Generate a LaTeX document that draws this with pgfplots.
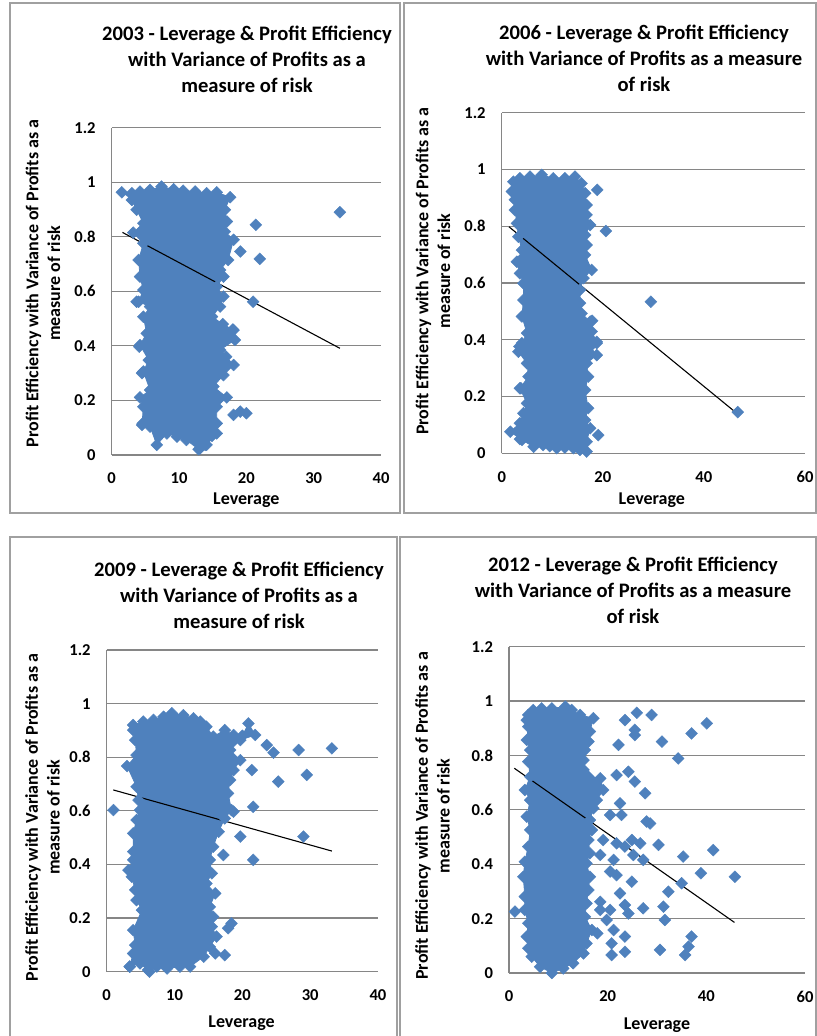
\documentclass[border=0pt]{standalone}
\usepackage{fontspec}
\setmainfont{Carlito}
\usepackage{pgfplots}
\pgfplotsset{compat=1.18}
\definecolor{exblue}{HTML}{4F81BD}
\definecolor{gridgray}{HTML}{868686}
\definecolor{boxgray}{HTML}{A0A0A0}
\pgfplotsset{
  panel/.style={
    scale only axis, anchor=south west,
    axis lines*=left,
    axis line style={draw=gridgray, line width=0.6pt},
    ymajorgrids, grid style={draw=gridgray, line width=0.6pt},
    ymin=0, ymax=1.2, ytick={0,0.2,0.4,0.6,0.8,1,1.2}, xmin=0,
    major tick length=0pt, tick style={draw=none},
    clip=false,
    /pgf/number format/assume math mode=true,
    xticklabel={\bfseries\pgfmathprintnumber{\tick}},
    yticklabel={\bfseries\pgfmathprintnumber{\tick}},
    ticklabel style={font=\fontsize{8.3}{10}\selectfont\bfseries},
    yticklabel style={xshift=-4.5pt},
    xticklabel style={yshift=-5.5pt},
    label style={font=\fontsize{9}{10.85}\selectfont\bfseries},
    ylabel style={align=center, anchor=center, rotate=0},
    xlabel style={anchor=center},
    xlabel={Leverage},
    ylabel={Profit Efficiency with Variance of Profits as a\\measure of risk},
  },
  dots/.style={color=exblue, fill=exblue, mark=square*, mark size=2.1pt,
    mark options={rotate=45, fill=exblue, draw=exblue, line width=0.2pt}},
  pts/.style={dots, only marks},
  trend/.style={black, line width=0.55pt, mark=none},
}
\tikzset{ttl/.style={align=center, font=\fontsize{10.3}{13}\selectfont\bfseries}}
\begin{document}
\begin{tikzpicture}
\useasboundingbox (0,0) rectangle (408.5pt,518pt);
\draw[boxgray, line width=0.75pt] (5pt,261.5pt) rectangle (200pt,516.5pt);
\draw[boxgray, line width=0.75pt] (202pt,261.5pt) rectangle (408pt,516.5pt);
\draw[boxgray, line width=0.75pt] (5pt,-3pt) rectangle (198.5pt,249.5pt);
\draw[boxgray, line width=0.75pt] (200pt,-3pt) rectangle (408pt,249.5pt);

% ---------------- 2003 ----------------
\begin{axis}[panel, at={(55.85pt,290.5pt)}, width=134.65pt, height=163.65pt,
  xmax=40, xtick={0,10,20,30,40},
  xlabel style={at={(axis description cs:0.5,-0.1375)}},
  ylabel style={at={(axis description cs:-0.2551,0.5244)}}]
\addplot[dots] coordinates {
(1.5,0.963) (3.0,0.960) (4.2,0.966) (5.7,0.972) (7.4,0.984) (9.2,0.974) (10.6,0.969)
(12.4,0.966) (14.1,0.960) (15.6,0.963) (17.6,0.945) (16.8,0.899) (17.1,0.856) (16.8,0.819)
(18.1,0.789) (17.3,0.715) (16.1,0.678) (16.6,0.654) (15.6,0.617) (16.6,0.581) (16.1,0.544)
(14.9,0.507) (16.5,0.480) (18.1,0.458) (18.3,0.422) (16.1,0.385) (17.0,0.360) (18.1,0.330)
(16.6,0.293) (15.1,0.251) (17.1,0.211) (15.6,0.177) (15.6,0.116) (15.6,0.079) (14.1,0.037)
(12.9,0.021) (11.1,0.055) (9.7,0.067) (8.2,0.079) (6.7,0.037) (5.7,0.104) (4.5,0.110)
(4.7,0.177) (4.2,0.211) (5.7,0.238) (4.7,0.306) (5.5,0.348) (4.2,0.403) (5.2,0.446)
(4.7,0.507) (5.7,0.544) (4.0,0.562) (4.7,0.605) (4.2,0.654) (4.0,0.715) (4.7,0.776)
(3.2,0.815) (4.7,0.850) (3.7,0.899) (3.0,0.935)
};
\addplot[pts] coordinates {
(21.4,0.844) (22.0,0.719) (19.1,0.746) (21.0,0.562) (20.0,0.153) (18.1,0.147) (19.1,0.159)
(33.9,0.890) (18.0,0.460) (4.1,0.397) (4.6,0.116) (13.1,0.024) (13.9,0.037) (14.9,0.070)
(4.5,0.300) (3.7,0.562)
};
\addplot[trend] coordinates {(1.6,0.816) (33.9,0.391)};
\end{axis}

% ---------------- 2006 ----------------
\begin{axis}[panel, at={(250.85pt,291.35pt)}, width=151.65pt, height=170.3pt,
  xmax=60, xtick={0,20,40,60},
  xlabel style={at={(axis description cs:0.495,-0.1371)}},
  ylabel style={at={(axis description cs:-0.2265,0.535)}}]
\addplot[dots] coordinates {
(2.3,0.957) (3.6,0.969) (5.6,0.975) (7.9,0.981) (10.2,0.969) (12.5,0.969) (14.5,0.975)
(15.8,0.951) (16.5,0.916) (16.8,0.875) (16.8,0.840) (17.5,0.804) (16.5,0.769) (16.8,0.734)
(16.5,0.699) (17.8,0.646) (16.2,0.617) (15.5,0.576) (15.5,0.529) (15.8,0.493) (17.5,0.464)
(17.8,0.429) (18.8,0.393) (17.5,0.376) (18.8,0.346) (16.8,0.317) (17.1,0.270) (16.5,0.223)
(17.1,0.159) (16.5,0.117) (17.5,0.088) (16.8,0.041) (16.8,0.006) (15.5,0.012) (14.2,0.018)
(12.5,0.020) (10.9,0.018) (9.5,0.025) (8.2,0.029) (6.3,0.023) (4.0,0.047) (1.7,0.076)
(3.6,0.106) (4.3,0.141) (5.0,0.176) (3.6,0.229) (5.3,0.270) (5.0,0.317) (3.3,0.358)
(4.0,0.388) (5.0,0.423) (4.0,0.482) (4.3,0.540) (4.3,0.599) (3.6,0.634) (3.0,0.675)
(4.0,0.716) (3.3,0.763) (3.0,0.810) (2.6,0.857) (2.6,0.893) (2.0,0.922)
};
\addplot[pts] coordinates {
(18.9,0.928) (20.6,0.783) (29.5,0.534) (46.7,0.145) (19.1,0.064) (17.9,0.467) (18.8,0.388)
(3.5,0.376) (3.8,0.229) (3.3,0.675) (3.6,0.050)
};
\addplot[trend] coordinates {(1.44,0.798) (46.5,0.141)};
\end{axis}

% ---------------- 2009 ----------------
\begin{axis}[panel, at={(53.35pt,32.15pt)}, width=135.65pt, height=160.85pt,
  xmax=40, xtick={0,10,20,30,40},
  xlabel style={at={(axis description cs:0.497,-0.1604)}},
  ylabel style={at={(axis description cs:-0.2366,0.4795)}}]
\addplot[dots] coordinates {
(3.9,0.920) (5.4,0.933) (6.9,0.939) (8.4,0.951) (9.6,0.964) (11.3,0.957) (12.8,0.945)
(13.8,0.933) (14.7,0.914) (15.7,0.877) (17.4,0.901) (18.7,0.883) (20.0,0.880) (20.9,0.926)
(21.9,0.883) (19.7,0.864) (18.2,0.827) (19.7,0.789) (18.7,0.752) (18.2,0.715) (17.9,0.665)
(18.4,0.603) (17.4,0.572) (16.5,0.522) (15.7,0.466) (15.2,0.417) (15.5,0.367) (14.7,0.329)
(16.0,0.292) (15.2,0.242) (15.7,0.205) (15.5,0.168) (16.2,0.131) (15.2,0.093) (14.3,0.056)
(12.3,0.019) (10.8,0.019) (8.9,0.012) (7.4,0.019) (6.1,0.006) (4.9,0.031) (3.4,0.019)
(3.9,0.068) (4.2,0.099) (3.9,0.155) (5.2,0.230) (4.4,0.267) (4.2,0.305) (3.7,0.354)
(3.2,0.379) (3.9,0.417) (3.9,0.448) (3.9,0.516) (4.4,0.566) (4.9,0.603) (4.7,0.640)
(4.4,0.690) (3.0,0.767) (4.4,0.808) (4.2,0.864) (3.9,0.901)
};
\addplot[pts] coordinates {
(23.6,0.845) (24.6,0.817) (28.3,0.827) (33.2,0.833) (21.4,0.752) (25.3,0.709) (29.5,0.734)
(21.6,0.615) (19.7,0.504) (29.0,0.504) (17.2,0.435) (21.6,0.417) (17.9,0.162) (18.4,0.180)
(16.0,0.068) (17.4,0.062) (1.0,0.603) (3.4,0.019) (6.3,0.000) (18.7,0.597)
};
\addplot[trend] coordinates {(0.97,0.678) (33.2,0.450)};
\end{axis}

% ---------------- 2012 ----------------
\begin{axis}[panel, at={(254.5pt,31.5pt)}, width=148pt, height=163.15pt,
  xmax=60, xtick={0,20,40,60},
  xlabel style={at={(axis description cs:0.5,-0.1594)}},
  ylabel style={at={(axis description cs:-0.2584,0.4816)}}]
\addplot[dots] coordinates {
(3.6,0.930) (3.9,0.949) (4.9,0.967) (6.6,0.973) (8.7,0.973) (11.4,0.980) (12.7,0.967)
(14.4,0.949) (17.1,0.937) (16.4,0.888) (16.1,0.851) (15.4,0.820) (15.1,0.783) (15.1,0.747)
(16.1,0.722) (18.5,0.716) (19.1,0.673) (17.8,0.636) (17.1,0.606) (16.4,0.563) (16.8,0.526)
(16.1,0.489) (16.4,0.440) (15.7,0.403) (16.4,0.354) (16.1,0.305) (15.7,0.256) (15.4,0.207)
(16.8,0.158) (15.7,0.109) (15.1,0.072) (13.0,0.036) (11.0,0.017) (8.7,0.000) (6.3,0.023)
(4.6,0.060) (3.9,0.091) (3.6,0.134) (3.9,0.183) (3.2,0.232) (3.2,0.281) (2.9,0.354)
(3.2,0.409) (3.9,0.465) (4.3,0.526) (3.6,0.575) (4.3,0.636) (3.2,0.673) (4.3,0.722)
(3.9,0.777) (4.3,0.820) (3.6,0.857) (3.9,0.906)
};
\addplot[pts] coordinates {
(23.5,0.930) (25.9,0.957) (28.9,0.949) (25.5,0.894) (25.5,0.875) (22.2,0.839) (31.0,0.851)
(37.0,0.881) (40.1,0.918) (34.3,0.789) (21.8,0.728) (24.2,0.740) (25.5,0.704) (27.6,0.661)
(22.5,0.624) (20.5,0.581) (22.8,0.581) (27.9,0.557) (28.6,0.550) (19.1,0.489) (21.8,0.477)
(24.9,0.489) (26.6,0.477) (30.3,0.471) (41.4,0.452) (35.3,0.428) (18.5,0.434) (21.2,0.416)
(23.5,0.465) (25.2,0.434) (27.2,0.416) (20.5,0.373) (21.8,0.360) (24.9,0.336) (38.9,0.367)
(45.8,0.354) (35.0,0.330) (32.3,0.299) (22.5,0.293) (18.5,0.262) (23.5,0.250) (20.5,0.232)
(24.2,0.219) (27.2,0.238) (31.3,0.244) (31.6,0.195) (18.5,0.232) (19.8,0.195) (21.2,0.158)
(23.5,0.134) (17.9,0.146) (37.0,0.134) (36.4,0.097) (35.7,0.066) (20.8,0.109) (20.8,0.066)
(23.5,0.078) (30.6,0.085) (1.2,0.226)
};
\addplot[trend] coordinates {(1.07,0.753) (45.7,0.186)};
\end{axis}

\node[ttl] at (123.5pt,488.25pt) {2003 - Leverage \& Profit Efficiency\\with Variance of Profits as a\\measure of risk};
\node[ttl] at (322pt,489pt) {2006 - Leverage \& Profit Efficiency\\with Variance of Profits as a measure\\of risk};
\node[ttl] at (119.5pt,220.5pt) {2009 - Leverage \& Profit Efficiency\\with Variance of Profits as a\\measure of risk};
\node[ttl] at (316.5pt,223pt) {2012 - Leverage \& Profit Efficiency\\with Variance of Profits as a measure\\of risk};
\end{tikzpicture}
\end{document}
